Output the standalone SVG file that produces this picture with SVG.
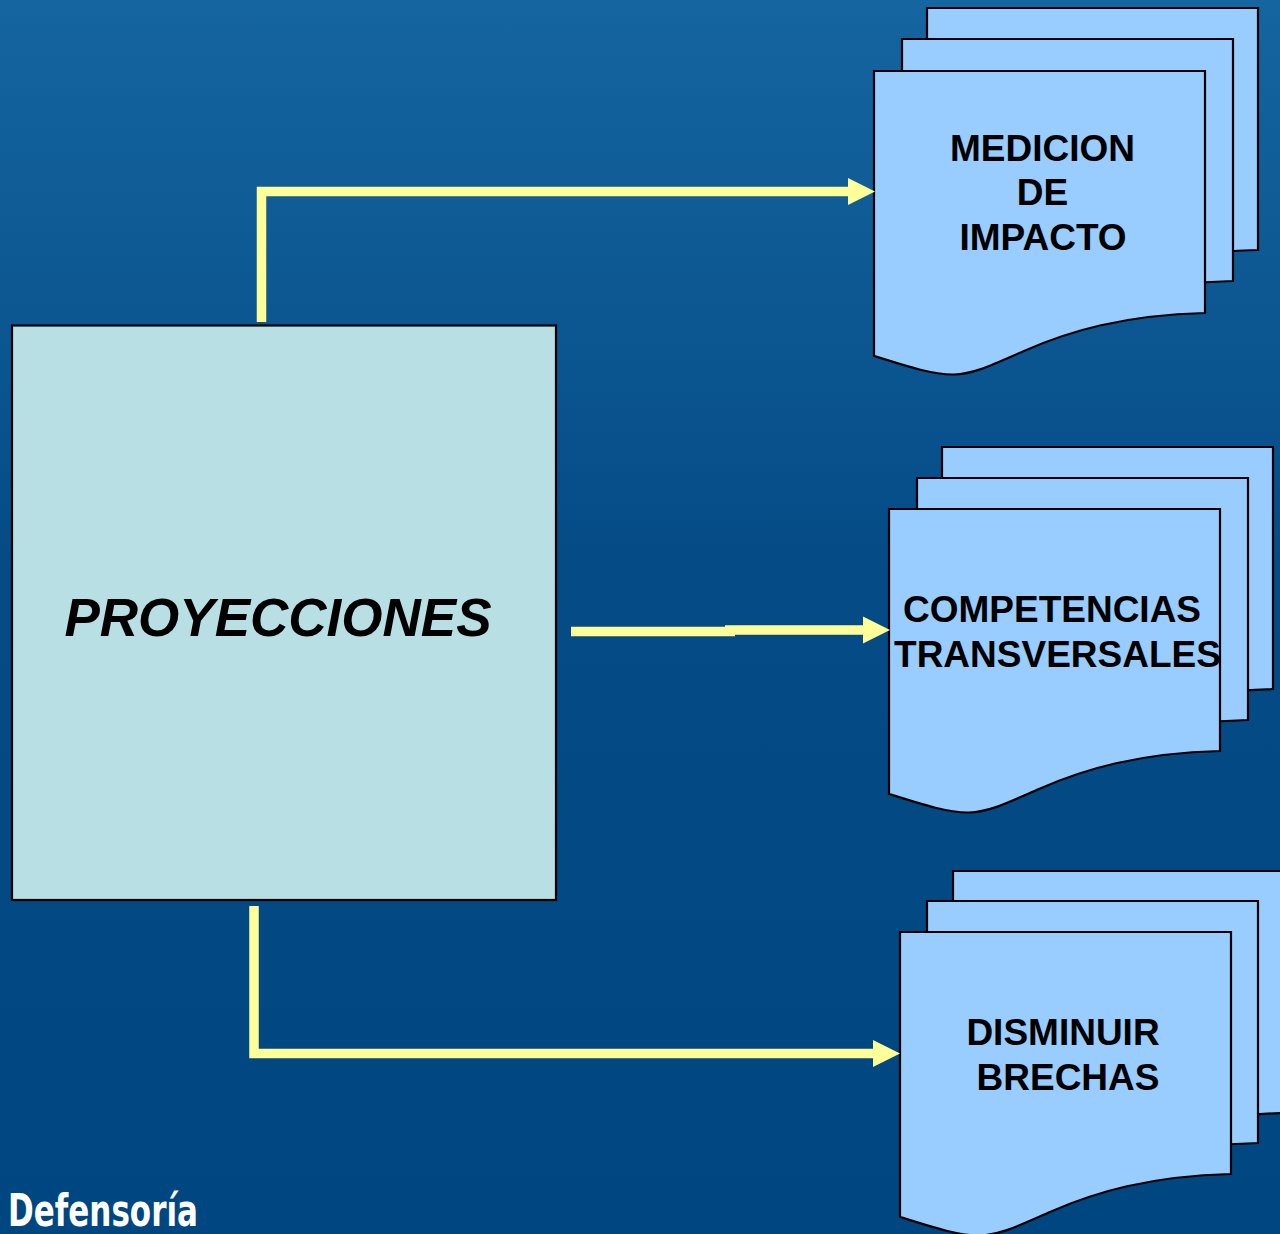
<svg xmlns="http://www.w3.org/2000/svg" xmlns:xlink="http://www.w3.org/1999/xlink" width="1280" height="1234" viewBox="0 0 1280 1234">
<style>
.page{fill:#99CCFF;stroke:#000;stroke-width:2.2;stroke-linejoin:miter}
.lbl{font-family:"Liberation Sans",Arial,sans-serif;font-weight:bold;font-size:37px;fill:#000;text-anchor:middle}
.conn{fill:none;stroke:#FFFF99;stroke-width:9.5;stroke-linejoin:miter;stroke-linecap:butt}
</style>
<defs>
<linearGradient id="bg" x1="0" y1="0" x2="0" y2="1">
<stop offset="0" stop-color="#1565A0"/>
<stop offset="0.45" stop-color="#054C87"/>
<stop offset="1" stop-color="#004680"/>
</linearGradient>
<path id="doc" d="M0,0 H331 V242 C250,244 195,260 150,280 C118,294 100,303 80,303.5 C60,304 35,296 0,285 Z"/>
<marker id="ah" markerUnits="userSpaceOnUse" markerWidth="30" markerHeight="30" viewBox="0 -15 30 30" refX="0" refY="0" orient="auto">
<path d="M0,-13.5 L27,0 L0,13.5 Z" fill="#FFFF99"/>
</marker>
</defs>
<rect x="0" y="0" width="1280" height="1234" fill="url(#bg)"/>

<g id="proyecciones">
<rect x="12" y="325.5" width="544" height="574.5" fill="#B8DFE3" stroke="#000" stroke-width="2.2"/>
<text x="278" y="636" font-family="'Liberation Sans',Arial,sans-serif" font-weight="bold" font-style="italic" font-size="53" text-anchor="middle" fill="#000">PROYECCIONES</text>
</g>

<g id="medicion">
<use xlink:href="#doc" href="#doc" class="page" transform="translate(927,8)"/>
<use xlink:href="#doc" href="#doc" class="page" transform="translate(902,39)"/>
<use xlink:href="#doc" href="#doc" class="page" transform="translate(874,71)"/>
<text class="lbl" x="1042.5" y="161">MEDICION</text>
<text class="lbl" x="1042.5" y="205">DE</text>
<text class="lbl" x="1043" y="250">IMPACTO</text>
</g>

<g id="competencias">
<use xlink:href="#doc" href="#doc" class="page" transform="translate(942,447)"/>
<use xlink:href="#doc" href="#doc" class="page" transform="translate(917,478)"/>
<use xlink:href="#doc" href="#doc" class="page" transform="translate(889,509)"/>
<text class="lbl" x="1052" y="622">COMPETENCIAS</text>
<text class="lbl" x="1057.5" y="667">TRANSVERSALES</text>
</g>

<g id="disminuir">
<use xlink:href="#doc" href="#doc" class="page" transform="translate(953,871)"/>
<use xlink:href="#doc" href="#doc" class="page" transform="translate(927,901)"/>
<use xlink:href="#doc" href="#doc" class="page" transform="translate(900,932)"/>
<text class="lbl" x="1063" y="1045">DISMINUIR</text>
<text class="lbl" x="1068" y="1090">BRECHAS</text>
</g>

<g id="connectors">
<polyline class="conn" points="261.5,322 261.5,191.5 848,191.5" marker-end="url(#ah)"/>
<path class="conn" d="M571,631.5 H735 M725,630 H863" marker-end="url(#ah)"/>
<polyline class="conn" points="254,906 254,1053.5 873,1053.5" marker-end="url(#ah)"/>
</g>

<g id="logo">
<text x="8" y="1226" font-family="'DejaVu Sans Condensed','DejaVu Sans',sans-serif" font-weight="bold" font-size="44" fill="#FFFFFF" textLength="190" lengthAdjust="spacingAndGlyphs">Defensoría</text>
</g>
</svg>
